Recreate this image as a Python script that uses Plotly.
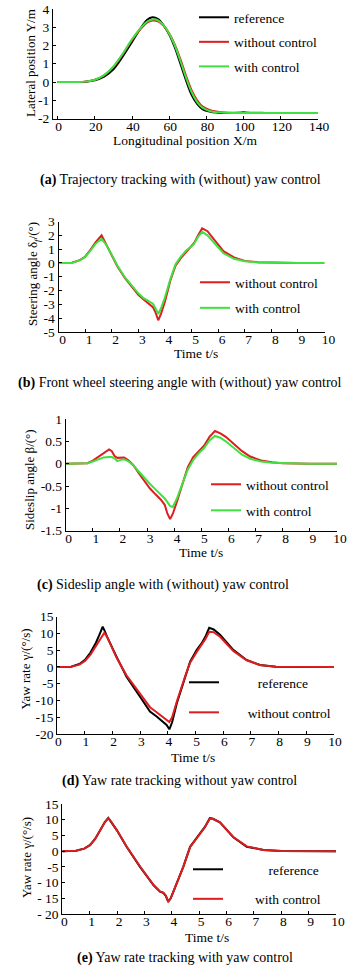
import plotly.graph_objects as go

W, H = 364, 972
FONT = "Liberation Serif, Times New Roman, serif"
BLACK = "#000000"
RED = "#dc1e1e"
GREEN = "#3fe03f"

# ---------------- data ----------------
# (a) trajectory
X_a = [0, 10, 15, 20, 25, 30, 35, 40, 45, 48, 51, 54, 57, 60, 63, 66, 69, 72, 75, 78,
       82, 86, 90, 95, 98, 100, 102, 110, 120, 140]
ref_a = [0, 0, 0.02, 0.1, 0.3, 0.7, 1.4, 2.2, 3.0, 3.4, 3.55, 3.45, 3.1, 2.6, 1.9, 1.0,
         0.1, -0.7, -1.2, -1.5, -1.63, -1.68, -1.7, -1.7, -1.7, -1.7, -1.7, -1.7, -1.7, -1.7]
wo_a = [0, 0, 0.02, 0.12, 0.37, 0.83, 1.52, 2.3, 2.95, 3.25, 3.37, 3.33, 3.08, 2.65, 2.05,
        1.25, 0.35, -0.45, -1.0, -1.35, -1.55, -1.63, -1.67, -1.68, -1.67, -1.64, -1.67,
        -1.69, -1.7, -1.7]
w_a = [0, 0, 0.02, 0.12, 0.38, 0.85, 1.55, 2.35, 3.0, 3.3, 3.43, 3.38, 3.1, 2.65, 2.0,
       1.15, 0.25, -0.55, -1.1, -1.42, -1.6, -1.66, -1.69, -1.7, -1.7, -1.7, -1.7, -1.7,
       -1.7, -1.7]

# (b) front wheel steering angle
t_b = [0, 0.5, 0.8, 1.0, 1.2, 1.4, 1.62, 1.8, 2.0, 2.2, 2.5, 2.8, 3.0, 3.2, 3.4, 3.55,
       3.65, 3.75, 3.85, 4.0, 4.2, 4.4, 4.6, 4.8, 5.0, 5.1, 5.25, 5.4, 5.6, 5.85, 6.2,
       6.6, 7.0, 7.5, 8.0, 9.0, 10.0]
wo_b = [0, 0.02, 0.2, 0.45, 0.95, 1.5, 2.0, 1.35, 0.55, -0.2, -1.1, -1.85, -2.3, -2.65,
        -2.95, -3.2, -3.6, -4.15, -3.7, -2.8, -1.3, -0.2, 0.35, 0.8, 1.2, 1.45, 2.0, 2.5,
        2.3, 1.7, 0.85, 0.4, 0.15, 0.05, 0.02, 0, 0]
w_b = [0, 0.0, 0.18, 0.42, 0.9, 1.4, 1.75, 1.3, 0.6, -0.15, -1.05, -1.75, -2.2, -2.55,
       -2.8, -2.95, -3.3, -3.7, -3.3, -2.5, -1.2, -0.1, 0.45, 0.9, 1.2, 1.4, 1.9, 2.25,
       2.0, 1.45, 0.7, 0.3, 0.12, 0.04, 0.01, 0, 0]

# (c) sideslip angle
t_c = [0, 0.5, 0.8, 1.0, 1.2, 1.4, 1.6, 1.7, 1.8, 1.9, 2.0, 2.15, 2.3, 2.5, 2.7, 2.9,
       3.1, 3.3, 3.5, 3.65, 3.75, 3.85, 3.95, 4.1, 4.3, 4.5, 4.7, 4.9, 5.1, 5.3, 5.5,
       5.7, 5.9, 6.2, 6.5, 6.8, 7.2, 7.6, 8.0, 9.0, 10.0]
wo_c = [0, 0, 0.01, 0.07, 0.15, 0.24, 0.32, 0.28, 0.17, 0.13, 0.13, 0.14, 0.08, -0.04,
        -0.22, -0.4, -0.55, -0.68, -0.8, -0.92, -1.12, -1.24, -1.12, -0.85, -0.45, -0.08,
        0.15, 0.28, 0.4, 0.6, 0.73, 0.68, 0.6, 0.44, 0.28, 0.16, 0.07, 0.03, 0.01, 0, 0]
w_c = [0, 0, 0.01, 0.05, 0.1, 0.14, 0.15, 0.15, 0.12, 0.06, 0.08, 0.1, 0.06, -0.04,
       -0.18, -0.32, -0.45, -0.57, -0.68, -0.78, -0.86, -0.95, -0.97, -0.78, -0.45, -0.13,
       0.08, 0.23, 0.35, 0.52, 0.62, 0.58, 0.5, 0.34, 0.2, 0.11, 0.05, 0.02, 0.01, 0, 0]

# (d) yaw rate without control
t_d = [0, 0.5, 0.8, 1.0, 1.2, 1.4, 1.52, 1.64, 1.7, 1.8, 2.14, 2.5, 2.99, 3.35, 3.59,
       3.83, 3.95, 4.05, 4.15, 4.32, 4.62, 4.8, 5.04, 5.22, 5.35, 5.49, 5.65, 5.88, 6.36,
       6.84, 7.32, 7.9, 9.0, 10.0]
ref_d = [0, 0.1, 0.9, 2.1, 4.3, 7.3, 9.6, 12.0, 11.0, 9.0, 3.1, -2.9, -8.9, -13.3, -14.8,
         -16.3, -17.3, -18.6, -16.5, -10.8, -2.9, 1.6, 5.1, 7.1, 9.0, 11.7, 11.2, 9.6, 5.1,
         2.1, 0.6, 0.1, 0, 0]
wo_d = [0, 0.1, 0.7, 1.8, 3.7, 6.3, 8.2, 9.8, 10.2, 9.0, 2.8, -2.5, -8.0, -12.0, -13.5,
        -15.0, -15.8, -16.4, -15.0, -10.3, -2.8, 1.3, 4.5, 6.5, 8.3, 10.5, 10.4, 9.0, 4.8,
        2.0, 0.6, 0.1, 0, 0]

# (e) yaw rate with control
t_e = [0, 0.5, 0.8, 1.01, 1.2, 1.38, 1.55, 1.68, 1.8, 1.99, 2.35, 2.84, 3.33, 3.57, 3.69,
       3.78, 3.87, 3.96, 4.06, 4.42, 4.67, 5.03, 5.21, 5.39, 5.5, 5.76, 6.25, 6.74, 7.35,
       8.0, 9.0, 10.0]
ref_e = [0, 0.1, 0.8, 1.9, 3.9, 6.7, 9.2, 10.6, 9.2, 6.7, 1.4, -5.0, -10.8, -12.9, -13.3,
         -14.2, -16.1, -15.0, -12.9, -5.0, 1.4, 5.7, 7.7, 10.5, 10.3, 9.2, 4.4, 1.4, 0.4,
         0.05, 0, 0]
w_e = [0, 0.1, 0.8, 1.9, 3.9, 6.6, 9.1, 10.5, 9.2, 6.7, 1.5, -4.9, -10.7, -12.8, -13.2,
       -14.1, -16.0, -15.0, -12.8, -5.0, 1.3, 5.6, 7.6, 10.4, 10.3, 9.2, 4.5, 1.5, 0.4,
       0.05, 0, 0]

# tick labels
xt_a = [0, 20, 40, 60, 80, 100, 120, 140]
yt_a = [-2, -1, 0, 1, 2, 3, 4]
xt_t = [0, 1, 2, 3, 4, 5, 6, 7, 8, 9, 10]
yt_b = [-5, -4, -3, -2, -1, 0, 1, 2, 3]
yt_c = [-1.5, -1, -0.5, 0, 0.5, 1]
yt_c_text = ["-1.5", "-1", "-0.5", "0", "0.5", "1"]
yt_y = [-20, -15, -10, -5, 0, 5, 10, 15]
yt_d_text = ["-20", "-15", "-10", "-5", "0", "5", "10", "15"]
yt_e_text = ["- 20", "- 15", "- 10", "-5", "0", "5", "10", "15"]

captions = ["<b>(a)</b> Trajectory tracking with (without) yaw control",
            "<b>(b)</b> Front wheel steering angle with (without) yaw control",
            "<b>(c)</b> Sideslip angle with (without) yaw control",
            "<b>(d)</b> Yaw rate tracking without yaw control",
            "<b>(e)</b> Yaw rate tracking with yaw control"]

# ---------------- layout helpers ----------------
def fx(p):
    return p / W

def fy(p):
    return 1 - p / H

fig = go.Figure()

panels = [
    dict(s="", xl=53, xr=318, yt=9, yb=118.5, xr_=[-2.5, 140], yr_=[-2, 4],
         xt=xt_a, yv=yt_a, ytx=[str(v) for v in yt_a], shift=1),
    dict(s="2", xl=58.5, xr=324.5, yt=221.5, yb=332, xr_=[0, 10], yr_=[-5, 3],
         xt=xt_t, yv=yt_b, ytx=[str(v) for v in yt_b], shift=4),
    dict(s="3", xl=65.7, xr=337, yt=419, yb=530.7, xr_=[0, 10], yr_=[-1.5, 1],
         xt=xt_t, yv=yt_c, ytx=yt_c_text, shift=3),
    dict(s="4", xl=57.3, xr=334, yt=616.7, yb=734, xr_=[0, 10], yr_=[-20, 15],
         xt=xt_t, yv=yt_y, ytx=yt_d_text, shift=1),
    dict(s="5", xl=62.3, xr=336, yt=804, yb=914, xr_=[0, 10], yr_=[-20, 15],
         xt=xt_t, yv=yt_y, ytx=yt_e_text, shift=2),
]

tickfont = dict(family=FONT, size=13.5, color="black")
for p in panels:
    s = p["s"]
    xa = "xaxis" + s
    ya = "yaxis" + s
    fig.layout[xa] = dict(domain=[fx(p["xl"]), fx(p["xr"])], range=p["xr_"],
                          anchor="y" + s, showgrid=False, zeroline=False,
                          showline=True, linecolor="black", linewidth=1,
                          ticks="inside", ticklen=3, tickcolor="black",
                          tickvals=p["xt"], ticktext=[str(v) for v in p["xt"]],
                          tickfont=tickfont, ticklabelshift=p["shift"],
                          ticklabelstandoff=-5, automargin=False, fixedrange=True)
    fig.layout[ya] = dict(domain=[fy(p["yb"]), fy(p["yt"])], range=p["yr_"],
                          anchor="x" + s, showgrid=False, zeroline=False,
                          showline=True, linecolor="black", linewidth=1,
                          ticks="inside", ticklen=3, tickcolor="black",
                          tickvals=p["yv"], ticktext=p["ytx"], tickfont=tickfont,
                          automargin=False, fixedrange=True)

def add(x, y, name, color, s, leg, width=2.0, shape="linear"):
    fig.add_trace(go.Scatter(x=x, y=y, name=name, mode="lines",
                             line=dict(color=color, width=width, shape=shape),
                             xaxis="x" + s, yaxis="y" + s, legend=leg,
                             legendgroup=leg + name, showlegend=True,
                             hoverinfo="skip"))

add(X_a, ref_a, "reference", BLACK, "", "legend", shape="spline")
add(X_a, wo_a, "without control", RED, "", "legend", shape="spline")
add(X_a, w_a, "with control", GREEN, "", "legend", shape="spline")

add(t_b, wo_b, "without control", RED, "2", "legend2")
add(t_b, w_b, "with control", GREEN, "2", "legend2")

add(t_c, wo_c, "without control", RED, "3", "legend3")
add(t_c, w_c, "with control", GREEN, "3", "legend3")

NB = "\u00a0"
add(t_d, ref_d, NB * 10 + "reference", BLACK, "4", "legend4")
add(t_d, wo_d, NB * 7 + "without control", RED, "4", "legend4")

add(t_e, ref_e, NB * 12 + "reference", BLACK, "5", "legend5")
add(t_e, w_e, NB * 8 + "with control", RED, "5", "legend5")

legfont = dict(family=FONT, size=13.5, color="black")
def leg(xpx, ypx, gap):
    return dict(x=fx(xpx), y=fy(ypx), xanchor="left", yanchor="top", font=legfont,
                bgcolor="rgba(0,0,0,0)", borderwidth=0, tracegroupgap=gap,
                itemwidth=30, traceorder="grouped", itemclick=False,
                itemdoubleclick=False)

fig.update_layout(
    legend=leg(194, 2, 4),
    legend2=leg(195, 267, 5),
    legend3=leg(206, 469, 5.5),
    legend4=leg(184, 667, 9.5),
    legend5=leg(188, 854, 9),
)

ann = []
ytitles = [("Lateral position Y/m", 31, 63),
           ("Steering angle δ<sub><i>f</i></sub>/(°)", 33, 274),
           ("Sideslip angle β/(°)", 29, 479),
           ("Yaw rate γ/(°/s)", 24.5, 669),
           ("Yaw rate γ/(°/s)", 26, 858)]
for txt, xp, yp in ytitles:
    ann.append(dict(text=txt, x=fx(xp), y=fy(yp), xref="paper", yref="paper",
                    textangle=-90, showarrow=False, xanchor="center", yanchor="middle",
                    font=dict(family=FONT, size=13, color="black")))
xtitles = [("Longitudinal position X/m", 185, 140),
           ("Time t/s", 195.7, 353.5),
           ("Time t/s", 201, 552.5),
           ("Time t/s", 192.7, 757.5),
           ("Time t/s", 207.3, 937.5)]
for txt, xp, yp in xtitles:
    ann.append(dict(text=txt, x=fx(xp), y=fy(yp), xref="paper", yref="paper",
                    showarrow=False, xanchor="center", yanchor="middle",
                    font=dict(family=FONT, size=13.5, color="black")))
cap_pos = [(180, 180), (180, 383), (163, 585), (179, 781), (185, 958)]
for txt, (xp, yp) in zip(captions, cap_pos):
    ann.append(dict(text=txt, x=fx(xp), y=fy(yp), xref="paper", yref="paper",
                    showarrow=False, xanchor="center", yanchor="middle",
                    font=dict(family=FONT, size=14, color="black")))

fig.update_layout(width=W, height=H,
                  margin=dict(l=0, r=0, t=0, b=0, pad=0, autoexpand=False),
                  paper_bgcolor="white", plot_bgcolor="white",
                  annotations=ann, showlegend=True, hovermode=False)

fig.write_html("out.html", config={"displayModeBar": False},
               post_script="document.body.style.margin='0';document.body.style.padding='0';")
